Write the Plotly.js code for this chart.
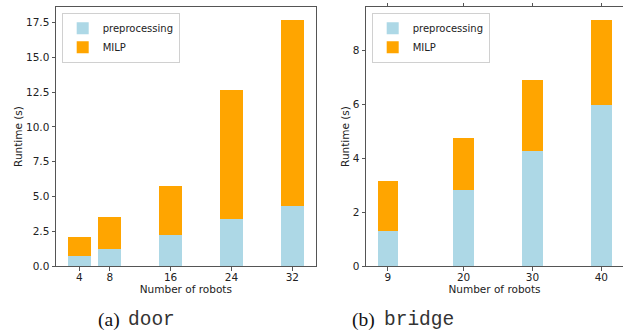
<!DOCTYPE html>
<html>
<head>
<meta charset="utf-8">
<script src="https://cdn.plot.ly/plotly-3.0.1.min.js"></script>
<style>html,body{margin:0;padding:0;background:#fff;}#chart{width:623px;height:333px;}</style>
</head>
<body>
<div id="chart"></div>
<script>
// door
const doorRobots = [4, 8, 16, 24, 32];
const doorPre = [0.70, 1.19, 2.21, 3.39, 4.34];
const doorMilp = [1.39, 2.36, 3.52, 9.30, 13.34];
// bridge
const bridgeRobots = [9, 20, 30, 40];
const bridgePre = [1.31, 2.83, 4.27, 5.96];
const bridgeMilp = [1.83, 1.91, 2.64, 3.16];
const doorYTicks = [0, 2.5, 5, 7.5, 10, 12.5, 15, 17.5];
const bridgeYTicks = [0, 2, 4, 6, 8];
const seriesNames = ['preprocessing', 'MILP'];
const captionLabels = ['(a)', '(b)'];
const captionNames = ['door', 'bridge'];

const cPre = '#ADD8E6', cMilp = '#FFA500';
const barW = 3;
const frame = '#555';
const tickFont = {family: 'DejaVu Sans', size: 10.5, color: '#222'};
const titleFont = {family: 'DejaVu Sans', size: 10.5, color: '#222'};

const traces = [
  {type: 'bar', x: doorRobots, y: doorPre, name: seriesNames[0], width: barW, marker: {color: cPre, line: {width: 0}}, xaxis: 'x', yaxis: 'y', legend: 'legend'},
  {type: 'bar', x: doorRobots, y: doorMilp, name: seriesNames[1], width: barW, marker: {color: cMilp, line: {width: 0}}, xaxis: 'x', yaxis: 'y', legend: 'legend'},
  {type: 'bar', x: bridgeRobots, y: bridgePre, name: seriesNames[0], width: barW, marker: {color: cPre, line: {width: 0}}, xaxis: 'x2', yaxis: 'y2', legend: 'legend2'},
  {type: 'bar', x: bridgeRobots, y: bridgeMilp, name: seriesNames[1], width: barW, marker: {color: cMilp, line: {width: 0}}, xaxis: 'x2', yaxis: 'y2', legend: 'legend2'}
];

const axisCommon = {showgrid: false, zeroline: false, showline: true, linecolor: frame, linewidth: 1,
  ticks: 'outside', ticklen: 3.5, tickwidth: 1, tickcolor: frame, tickfont: tickFont};

const legendCommon = {bgcolor: 'rgba(255,255,255,0.8)', bordercolor: '#d0d0d0', borderwidth: 1,
  font: {family: 'DejaVu Sans', size: 10, color: '#222'}, xanchor: 'left', yanchor: 'top',
  traceorder: 'normal', tracegroupgap: 0, itemwidth: 30};

const capY = (266 - 332) / 259;
const capFontSerif = {size: 19.5, color: '#111', family: 'Liberation Serif'};
const capFontMono = {size: 19.5, color: '#333', family: 'Liberation Mono'};

const layout = {
  width: 623, height: 333,
  margin: {l: 0, r: 0, t: 7, b: 67},
  paper_bgcolor: '#fff', plot_bgcolor: '#fff',
  barmode: 'stack',
  showlegend: true,
  xaxis: Object.assign({}, axisCommon, {domain: [56/623, 315.7/623], range: [0.94, 35.07], mirror: true,
    tickvals: doorRobots, ticktext: doorRobots.map(String), ticklabelstandoff: -2,
    title: {text: 'Number of robots', font: titleFont, standoff: 0}}),
  yaxis: Object.assign({}, axisCommon, {range: [0, 18.63], mirror: true, tickvals: doorYTicks,
    ticktext: doorYTicks.map(v => v.toFixed(1)),
    title: {text: 'Runtime (s)', font: titleFont, standoff: 1}}),
  xaxis2: Object.assign({}, axisCommon, {domain: [366/623, 1], range: [5.83, 43.14], mirror: 'allticks', anchor: 'y2',
    tickvals: bridgeRobots, ticktext: bridgeRobots.map(String), ticklabelstandoff: -2,
    title: {text: 'Number of robots', font: titleFont, standoff: 0}}),
  yaxis2: Object.assign({}, axisCommon, {range: [0, 9.61], anchor: 'x2', tickvals: bridgeYTicks,
    ticktext: bridgeYTicks.map(String),
    title: {text: 'Runtime (s)', font: titleFont, standoff: 1}}),
  legend: Object.assign({}, legendCommon, {x: 61.7/623, y: (266 - 12.7)/259}),
  legend2: Object.assign({}, legendCommon, {x: 371.7/623, y: (266 - 12.7)/259}),
  annotations: [
    {xref: 'paper', yref: 'paper', x: 121/623, y: capY, xanchor: 'right', yanchor: 'bottom', showarrow: false,
     text: captionLabels[0], font: capFontSerif, borderpad: 0},
    {xref: 'paper', yref: 'paper', x: 127/623, y: capY, xanchor: 'left', yanchor: 'bottom', showarrow: false,
     text: captionNames[0], font: capFontMono, borderpad: 0},
    {xref: 'paper', yref: 'paper', x: 376/623, y: capY, xanchor: 'right', yanchor: 'bottom', showarrow: false,
     text: captionLabels[1], font: capFontSerif, borderpad: 0},
    {xref: 'paper', yref: 'paper', x: 383/623, y: capY, xanchor: 'left', yanchor: 'bottom', showarrow: false,
     text: captionNames[1], font: capFontMono, borderpad: 0}
  ]
};

Plotly.newPlot('chart', traces, layout, {staticPlot: true, displayModeBar: false});
</script>
</body>
</html>
